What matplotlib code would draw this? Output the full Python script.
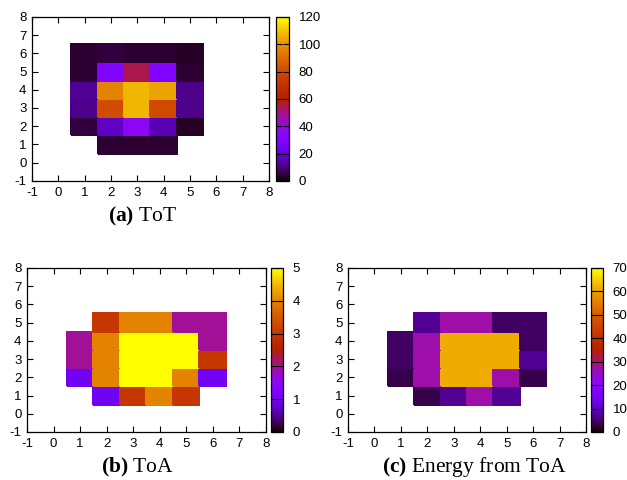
import matplotlib
matplotlib.use("Agg")
import matplotlib.pyplot as plt
import numpy as np
from matplotlib.colors import ListedColormap

plt.rcParams['font.family'] = ['Liberation Sans', 'DejaVu Sans']
plt.rcParams['axes.unicode_minus'] = False
plt.rcParams['mathtext.fontset'] = 'custom'
plt.rcParams['mathtext.rm'] = 'Liberation Serif'
plt.rcParams['mathtext.bf'] = 'Liberation Serif:bold'

# ToT map, rows y = 1..6, columns x = 1..5 (nan = no hit)
tot_x = [1, 2, 3, 4, 5]
tot_y = [1, 2, 3, 4, 5, 6]
tot = np.array([
    [np.nan, 4, 4, 4, np.nan],
    [5, 17, 36, 15, 3],
    [11, 80, 107, 79, 11],
    [12, 96, 107, 103, 11],
    [4, 30, 54, 30, 4],
    [4, 5, 4, 4, 3],
])

# ToA map, rows y = 1..5, columns x = 1..6
toa_x = [1, 2, 3, 4, 5, 6]
toa_y = [1, 2, 3, 4, 5]
toa = np.array([
    [np.nan, 1, 3, 4, 3, np.nan],
    [1, 4, 5, 5, 4, 1],
    [2, 4, 5, 5, 5, 3],
    [2, 4, 5, 5, 5, 2],
    [np.nan, 3, 4, 4, 2, 2],
])

# energy from ToA, same pixels
energy = np.array([
    [np.nan, 3.5, 7, 27, 7, np.nan],
    [3.5, 27, 61, 61, 27, 3.5],
    [4.5, 27, 61, 61, 61, 7],
    [4.5, 27, 61, 61, 61, 4.5],
    [np.nan, 7, 27, 27, 4.5, 4.5],
])

captions = ['(a)', '(b)', '(c)']
titles = ['ToT', 'ToA', 'Energy from ToA']

# gnuplot default palette (rgbformulae 7,5,15)
t = np.linspace(0, 1, 256)
pal = np.stack([np.sqrt(t), t**3, np.clip(np.sin(2 * np.pi * t), 0, 1)], axis=1)
cmap = ListedColormap(pal)

fig = plt.figure(figsize=(6.27, 4.8), dpi=100)


def panel(rect, cbrect, xs, ys, z, vmax, cbstep):
    ax = fig.add_axes(rect)
    xe = np.arange(xs[0] - 0.5, xs[-1] + 1.0, 1.0)
    ye = np.arange(ys[0] - 0.5, ys[-1] + 1.0, 1.0)
    mesh = ax.pcolormesh(xe, ye, np.ma.masked_invalid(z), cmap=cmap,
                         vmin=0, vmax=vmax, edgecolor='face', linewidth=0.3)
    ax.set_xlim(-1, 8)
    ax.set_ylim(-1, 8)
    ax.set_xticks(range(-1, 9))
    ax.set_yticks(range(-1, 9))
    ax.tick_params(direction='in', top=True, right=True, length=4,
                   labelsize=9.5, pad=4)
    for s in ax.spines.values():
        s.set_linewidth(0.9)
    cax = fig.add_axes(cbrect)
    cb = fig.colorbar(mesh, cax=cax, ticks=np.arange(0, vmax + 0.01, cbstep))
    cb.outline.set_linewidth(0.9)
    cax.tick_params(direction='in', left=True, right=True, length=4,
                    labelsize=9.5, pad=7)
    return ax


panel([0.051, 0.623, 0.378, 0.342], [0.440, 0.623, 0.0207, 0.342],
      tot_x, tot_y, tot, 120, 20)
panel([0.043, 0.100, 0.381, 0.342], [0.432, 0.100, 0.019, 0.342],
      toa_x, toa_y, toa, 5, 1)
panel([0.555, 0.100, 0.3796, 0.342], [0.9426, 0.100, 0.019, 0.342],
      toa_x, toa_y, energy, 70, 10)

cap_pos = [(143 / 627, 0.548), (137 / 627, 0.027), (475 / 627, 0.027)]
for (cx, cy), c, tt in zip(cap_pos, captions, titles):
    fig.text(cx, cy, r'$\mathbf{' + c + r'}$ ' + tt, ha='center', va='center',
             fontsize=15.5, family='Liberation Serif')

fig.savefig('out.png', dpi=100)
